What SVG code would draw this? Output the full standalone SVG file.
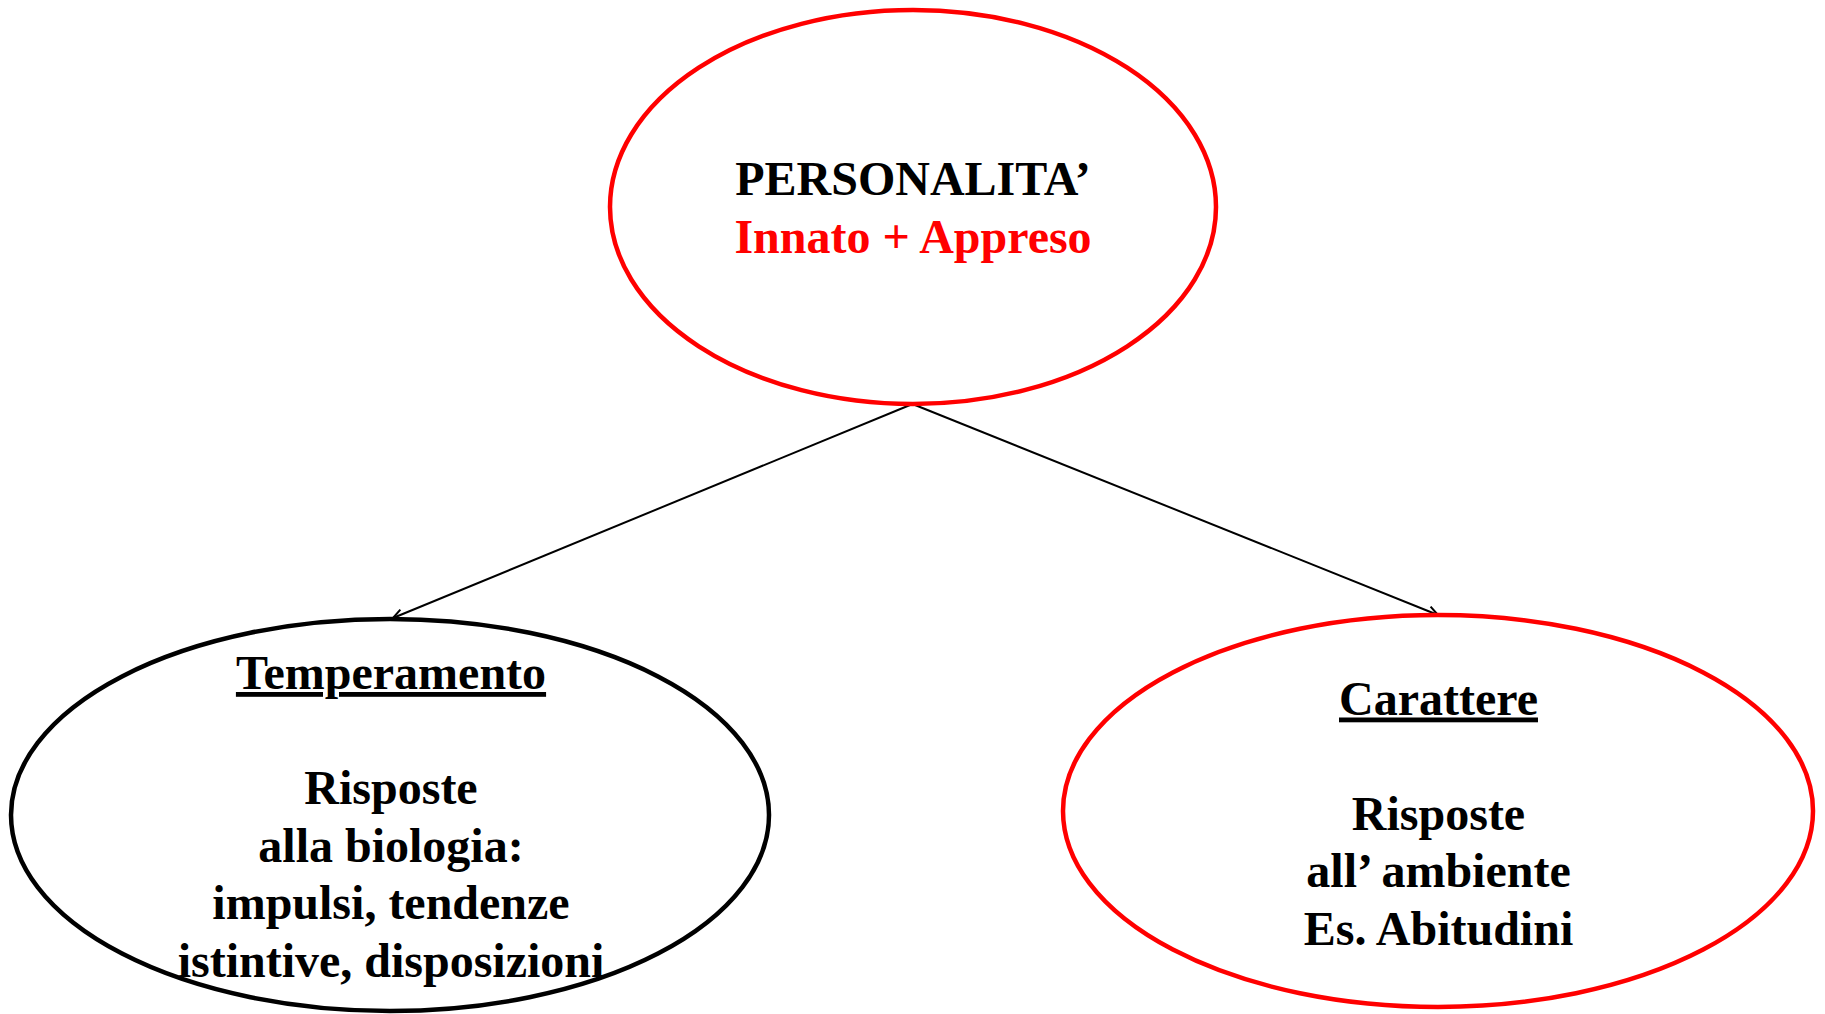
<svg xmlns="http://www.w3.org/2000/svg" width="1825" height="1014" viewBox="0 0 1825 1014">
<style>
.t{font-family:"Liberation Serif","Times New Roman",serif;font-weight:bold;font-size:48px;text-anchor:middle;fill:#000}
.r{fill:#ff0000}
.u{text-decoration:underline}
.en{fill:#fff;stroke-width:4.5}
.conn{stroke:#000;stroke-width:2;fill:none}
</style>
<defs>
<marker id="arr" viewBox="0 0 12 12" refX="11" refY="6" markerWidth="12" markerHeight="12" markerUnits="userSpaceOnUse" orient="auto">
<path d="M1,1 L11,6 L1,11" fill="none" stroke="#000" stroke-width="2"/>
</marker>
</defs>
<rect width="1825" height="1014" fill="#fff"/>
<g id="connectors">
<line class="conn" x1="912.5" y1="404" x2="393" y2="618" marker-end="url(#arr)"/>
<line class="conn" x1="912.5" y1="404" x2="1438" y2="615" marker-end="url(#arr)"/>
</g>
<g id="personalita">
<ellipse class="en" cx="913" cy="207" rx="303" ry="197" stroke="#ff0000"/>
<text class="t" x="913" y="195">PERSONALITA’</text>
<text class="t r" x="913" y="253">Innato + Appreso</text>
</g>
<g id="temperamento">
<ellipse cx="390" cy="815" rx="379" ry="196" fill="none" stroke="#000" stroke-width="4.5"/>
<text class="t u" x="391" y="689">Temperamento</text>
<text class="t" x="391" y="804">Risposte</text>
<text class="t" x="391" y="861.5">alla biologia:</text>
<text class="t" x="391" y="919">impulsi, tendenze</text>
<text class="t" x="391" y="976.5">istintive, disposizioni</text>
</g>
<g id="carattere">
<ellipse cx="1438" cy="811" rx="375" ry="196" fill="none" stroke="#ff0000" stroke-width="4.5"/>
<text class="t u" x="1438.5" y="714.5">Carattere</text>
<text class="t" x="1438.5" y="829.5">Risposte</text>
<text class="t" x="1438.5" y="887">all’ ambiente</text>
<text class="t" x="1438.5" y="944.5">Es. Abitudini</text>
</g>
</svg>
